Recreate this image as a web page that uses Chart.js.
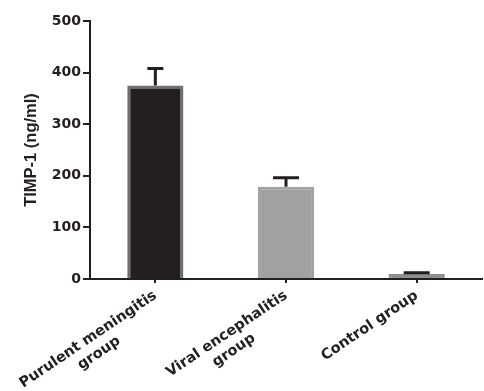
<!DOCTYPE html>
<html>
<head>
<meta charset="utf-8">
<script src="https://cdn.jsdelivr.net/npm/chart.js@4"></script>
<style>
  html, body { margin: 0; padding: 0; background: #fff; }
  #wrap { width: 484px; height: 391px; }
</style>
</head>
<body>
<div id="wrap"><canvas id="chart1"></canvas></div>
<script>
/** TIMP-1 by group **/
// second lines padded so they sit centred under the first line
const labels = [
	['Purulent meningitis', 'group\u00a0\u00a0\u00a0\u00a0\u00a0\u00a0\u00a0\u00a0\u00a0\u00a0\u00a0'],
	['Viral encephalitis', 'group\u00a0\u00a0\u00a0\u00a0\u00a0\u00a0\u00a0\u00a0\u00a0\u00a0'],
	'Control group'
];
const values = [375, 179, 10];
const errTop = [408, 196, 12];
const capWidth = [16, 26, 26];

const fills = ['#231f20', '#a1a1a3', '#8e8e90'];
const borders = ['#6f6f71', '#a1a1a3', '#8e8e90'];

// upper error bars (mean + SEM)
const errorBars = {
	id: 'errorBars',
	afterDatasetsDraw(chart) {
		const ctx = chart.ctx;
		const meta = chart.getDatasetMeta(0);
		const y = chart.scales.y;
		ctx.save();
		ctx.strokeStyle = '#231f20';
		ctx.lineWidth = 3;
		meta.data.forEach(function(bar, i) {
			const yTop = y.getPixelForValue(errTop[i]);
			const yBase = y.getPixelForValue(values[i]);
			ctx.beginPath();
			ctx.moveTo(bar.x, yBase);
			ctx.lineTo(bar.x, yTop);
			ctx.moveTo(bar.x - capWidth[i] / 2, yTop);
			ctx.lineTo(bar.x + capWidth[i] / 2, yTop);
			ctx.stroke();
		});
		ctx.restore();
	}
};

const tickFont = { family: 'DejaVu Sans, sans-serif', size: 14, weight: 'bold' };
const labelFont = { family: 'DejaVu Sans, sans-serif', size: 14.5, weight: 'bold' };
const titleFont = { family: 'Liberation Sans, Arial, sans-serif', size: 16.5, weight: 'bold' };

const config1 = {
	type: 'bar',
	data: {
		labels: labels,
		datasets: [{
			data: values,
			backgroundColor: fills,
			borderColor: borders,
			borderWidth: 3,
			barPercentage: 0.43,
			categoryPercentage: 1
		}]
	},
	options: {
		responsive: true,
		maintainAspectRatio: false,
		animation: false,
		layout: { padding: { top: 21, right: 2, left: 14 } },
		plugins: {
			legend: false,
			tooltip: { enabled: false }
		},
		scales: {
			y: {
				min: 0,
				max: 500,
				ticks: { stepSize: 100, color: '#231f20', font: tickFont, padding: 2 },
				grid: { drawOnChartArea: false, drawTicks: true, tickLength: 7, color: '#231f20', lineWidth: 2 },
				border: { color: '#231f20', width: 2 },
				title: { display: true, text: 'TIMP-1 (ng/ml)', color: '#231f20', font: titleFont, padding: 8 }
			},
			x: {
				afterFit: function(scale) { scale.height = 112; },
				ticks: { color: '#231f20', font: labelFont, minRotation: 34, maxRotation: 34, padding: 4 },
				grid: { offset: false, drawOnChartArea: false, drawTicks: true, tickLength: 4, color: '#231f20', lineWidth: 2 },
				border: { color: '#231f20', width: 2 }
			}
		}
	},
	plugins: [errorBars]
};

const chart1 = new Chart(
	document.getElementById('chart1'),
	config1
);
</script>
</body>
</html>
